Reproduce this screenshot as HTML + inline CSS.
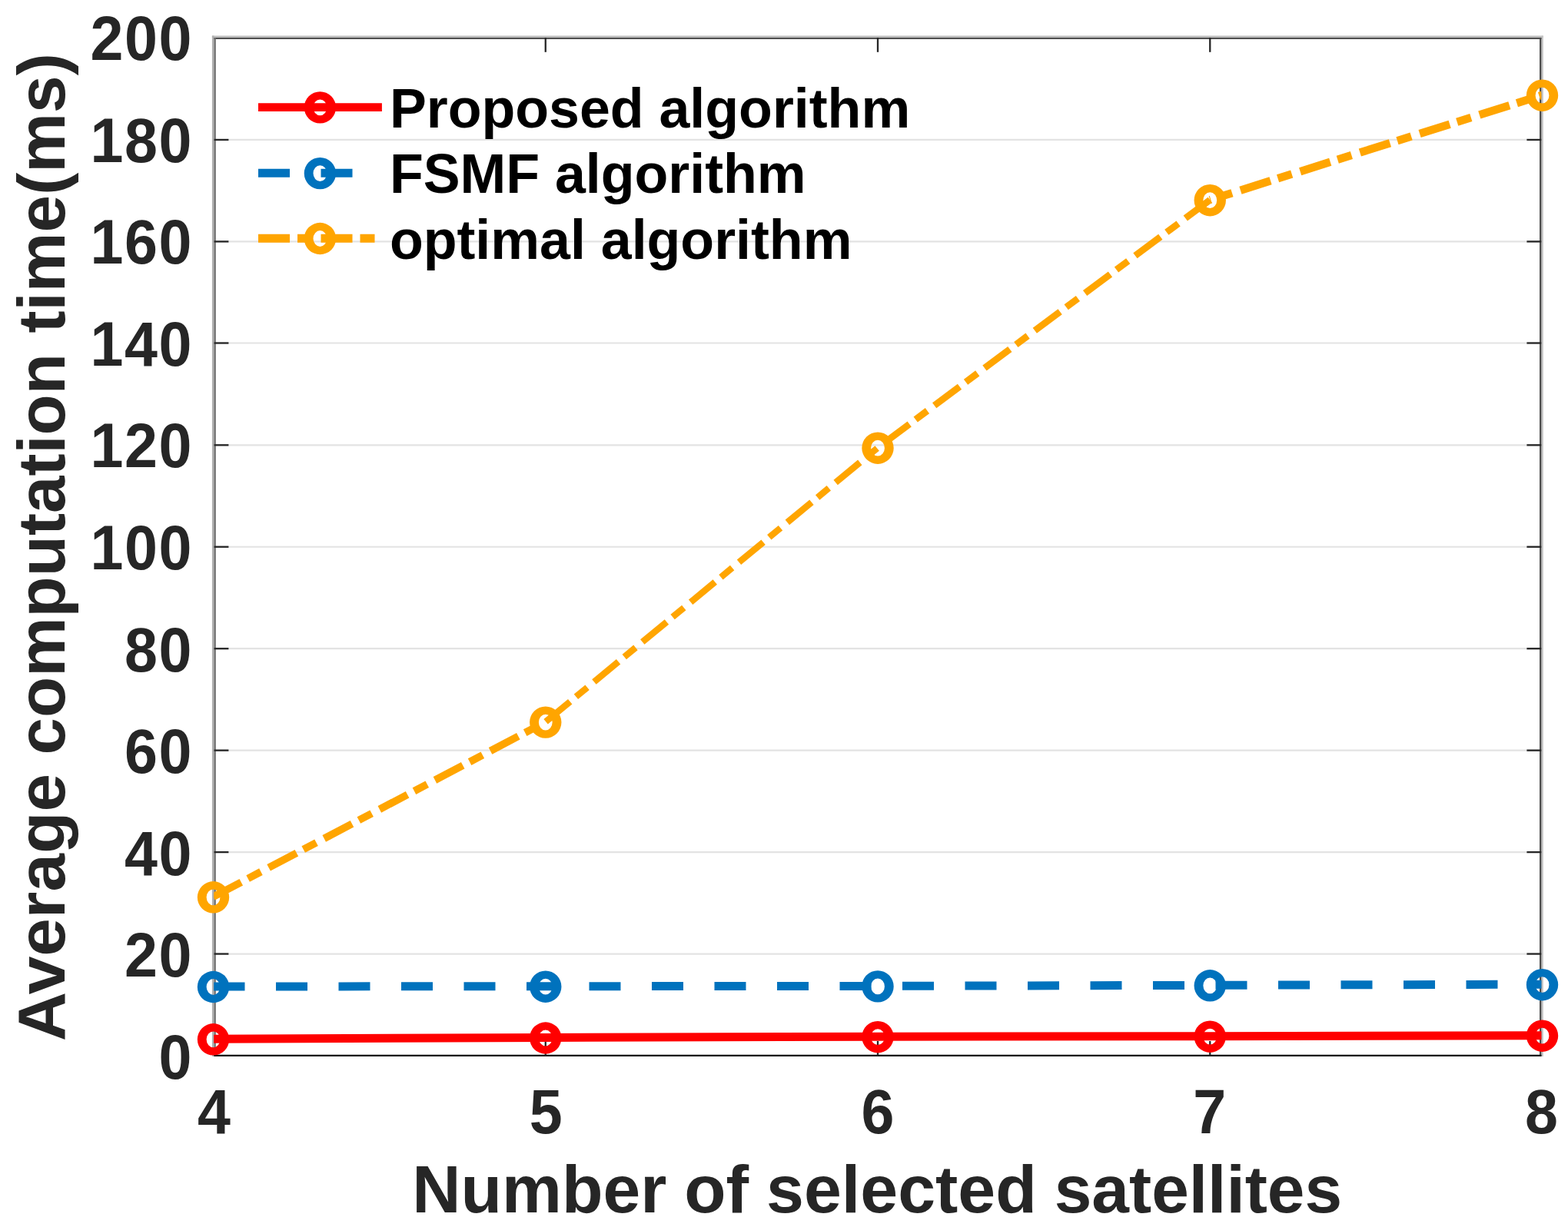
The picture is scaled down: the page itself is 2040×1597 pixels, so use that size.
<!DOCTYPE html>
<html lang="en"><head><meta charset="utf-8"><title>Average computation time</title>
<style>html,body{margin:0;padding:0;background:#fff;width:2040px;height:1597px;overflow:hidden}svg{display:block}text{font-family:"Liberation Sans",sans-serif;font-weight:bold}</style></head><body>
<svg width="2040" height="1597" viewBox="0 0 2040 1597" role="img" aria-label="Average computation time versus number of selected satellites">
<defs><clipPath id="ax"><rect x="278.2" y="49.0" width="1727.2" height="1324.8"/></clipPath></defs>
<rect width="2040" height="1597" fill="#fff"/>
<g stroke="#e3e3e3" stroke-width="2.2">
<line x1="278.4" y1="1241.55" x2="2005.4" y2="1241.55"/>
<line x1="278.4" y1="1109.10" x2="2005.4" y2="1109.10"/>
<line x1="278.4" y1="976.65" x2="2005.4" y2="976.65"/>
<line x1="278.4" y1="844.20" x2="2005.4" y2="844.20"/>
<line x1="278.4" y1="711.75" x2="2005.4" y2="711.75"/>
<line x1="278.4" y1="579.30" x2="2005.4" y2="579.30"/>
<line x1="278.4" y1="446.50" x2="2005.4" y2="446.50"/>
<line x1="278.4" y1="314.40" x2="2005.4" y2="314.40"/>
<line x1="278.4" y1="181.95" x2="2005.4" y2="181.95"/>
</g>
<g fill="none">
<line x1="275.9" y1="47.75" x2="2007.8" y2="47.75" stroke="#bdbdbd" stroke-width="2.5"/>
<line x1="277.15" y1="46.5" x2="277.15" y2="1375" stroke="#b0b0b0" stroke-width="2.5"/>
<line x1="2006.6" y1="46.5" x2="2006.6" y2="1375" stroke="#c4c4c4" stroke-width="2.4"/>
<line x1="278.4" y1="50" x2="2005.4" y2="50" stroke="#505050" stroke-width="2"/>
<line x1="279.6" y1="49" x2="279.6" y2="1375" stroke="#6e6e6e" stroke-width="2.4"/>
<line x1="2004.2" y1="49" x2="2004.2" y2="1375" stroke="#4d4d4d" stroke-width="2.4"/>
<line x1="278.4" y1="1373.8" x2="2005.4" y2="1373.8" stroke="#0d0d0d" stroke-width="2.3"/>
</g>
<g stroke="#262626" stroke-width="2.3">
<line x1="278.6" y1="1241.55" x2="297.4" y2="1241.55"/>
<line x1="1986.4" y1="1241.55" x2="2005.2" y2="1241.55"/>
<line x1="278.6" y1="1109.10" x2="297.4" y2="1109.10"/>
<line x1="1986.4" y1="1109.10" x2="2005.2" y2="1109.10"/>
<line x1="278.6" y1="976.65" x2="297.4" y2="976.65"/>
<line x1="1986.4" y1="976.65" x2="2005.2" y2="976.65"/>
<line x1="278.6" y1="844.20" x2="297.4" y2="844.20"/>
<line x1="1986.4" y1="844.20" x2="2005.2" y2="844.20"/>
<line x1="278.6" y1="711.75" x2="297.4" y2="711.75"/>
<line x1="1986.4" y1="711.75" x2="2005.2" y2="711.75"/>
<line x1="278.6" y1="579.30" x2="297.4" y2="579.30"/>
<line x1="1986.4" y1="579.30" x2="2005.2" y2="579.30"/>
<line x1="278.6" y1="446.50" x2="297.4" y2="446.50"/>
<line x1="1986.4" y1="446.50" x2="2005.2" y2="446.50"/>
<line x1="278.6" y1="314.40" x2="297.4" y2="314.40"/>
<line x1="1986.4" y1="314.40" x2="2005.2" y2="314.40"/>
<line x1="278.6" y1="181.95" x2="297.4" y2="181.95"/>
<line x1="1986.4" y1="181.95" x2="2005.2" y2="181.95"/>
<line x1="709.75" y1="1374.5" x2="709.75" y2="1355.0"/>
<line x1="709.75" y1="49.0" x2="709.75" y2="67.8"/>
<line x1="1142.00" y1="1374.5" x2="1142.00" y2="1355.0"/>
<line x1="1142.00" y1="49.0" x2="1142.00" y2="67.8"/>
<line x1="1574.25" y1="1374.5" x2="1574.25" y2="1355.0"/>
<line x1="1574.25" y1="49.0" x2="1574.25" y2="67.8"/>
</g>
<g fill="none" stroke-width="11.0" clip-path="url(#ax)">
<polyline points="277.50,1352.30 709.75,1350.50 1142.00,1349.20 1574.25,1348.70 2006.50,1347.70" stroke="#ff0000"/>
<polyline points="277.50,1284.00 709.75,1283.70 1142.00,1283.40 1574.25,1282.30 2006.50,1281.20" stroke="#0072bd" stroke-dasharray="41 40.5"/>
<line x1="277.50" y1="1167.30" x2="709.75" y2="939.60" stroke="#ffa500" stroke-width="9.73" stroke-dasharray="41 10 19 11.5" stroke-dashoffset="0.00"/>
<line x1="709.75" y1="939.60" x2="1142.00" y2="582.70" stroke="#ffa500" stroke-width="8.48" stroke-dasharray="41 10 19 11.5" stroke-dashoffset="81.06"/>
<line x1="1142.00" y1="582.70" x2="1574.25" y2="260.20" stroke="#ffa500" stroke-width="8.82" stroke-dasharray="41 10 19 11.5" stroke-dashoffset="71.11"/>
<line x1="1574.25" y1="260.20" x2="2006.50" y2="123.70" stroke="#ffa500" stroke-width="10.49" stroke-dasharray="41 10 19 11.5" stroke-dashoffset="39.91"/>
</g>
<g><path fill="#ff0000" fill-rule="evenodd" d="M256.80 1352.80a20.7 20.7 0 1 0 41.4 0a20.7 20.7 0 1 0 -41.4 0zM268.60 1352.80a8.9 10.4 0 1 0 17.8 0a8.9 10.4 0 1 0 -17.8 0z"/><path fill="#ff0000" fill-rule="evenodd" d="M689.05 1351.00a20.7 20.7 0 1 0 41.4 0a20.7 20.7 0 1 0 -41.4 0zM700.85 1351.00a8.9 10.4 0 1 0 17.8 0a8.9 10.4 0 1 0 -17.8 0z"/><path fill="#ff0000" fill-rule="evenodd" d="M1121.30 1349.70a20.7 20.7 0 1 0 41.4 0a20.7 20.7 0 1 0 -41.4 0zM1133.10 1349.70a8.9 10.4 0 1 0 17.8 0a8.9 10.4 0 1 0 -17.8 0z"/><path fill="#ff0000" fill-rule="evenodd" d="M1553.55 1349.20a20.7 20.7 0 1 0 41.4 0a20.7 20.7 0 1 0 -41.4 0zM1565.35 1349.20a8.9 10.4 0 1 0 17.8 0a8.9 10.4 0 1 0 -17.8 0z"/><path fill="#ff0000" fill-rule="evenodd" d="M1985.80 1348.20a20.7 20.7 0 1 0 41.4 0a20.7 20.7 0 1 0 -41.4 0zM1997.60 1348.20a8.9 10.4 0 1 0 17.8 0a8.9 10.4 0 1 0 -17.8 0z"/><path fill="#0072bd" fill-rule="evenodd" d="M256.80 1284.50a20.7 20.7 0 1 0 41.4 0a20.7 20.7 0 1 0 -41.4 0zM268.60 1284.50a8.9 10.4 0 1 0 17.8 0a8.9 10.4 0 1 0 -17.8 0z"/><path fill="#0072bd" fill-rule="evenodd" d="M689.05 1284.20a20.7 20.7 0 1 0 41.4 0a20.7 20.7 0 1 0 -41.4 0zM700.85 1284.20a8.9 10.4 0 1 0 17.8 0a8.9 10.4 0 1 0 -17.8 0z"/><path fill="#0072bd" fill-rule="evenodd" d="M1121.30 1283.90a20.7 20.7 0 1 0 41.4 0a20.7 20.7 0 1 0 -41.4 0zM1133.10 1283.90a8.9 10.4 0 1 0 17.8 0a8.9 10.4 0 1 0 -17.8 0z"/><path fill="#0072bd" fill-rule="evenodd" d="M1553.55 1282.80a20.7 20.7 0 1 0 41.4 0a20.7 20.7 0 1 0 -41.4 0zM1565.35 1282.80a8.9 10.4 0 1 0 17.8 0a8.9 10.4 0 1 0 -17.8 0z"/><path fill="#0072bd" fill-rule="evenodd" d="M1985.80 1281.70a20.7 20.7 0 1 0 41.4 0a20.7 20.7 0 1 0 -41.4 0zM1997.60 1281.70a8.9 10.4 0 1 0 17.8 0a8.9 10.4 0 1 0 -17.8 0z"/><path fill="#ffa500" fill-rule="evenodd" d="M256.80 1167.80a20.7 20.7 0 1 0 41.4 0a20.7 20.7 0 1 0 -41.4 0zM268.60 1167.80a8.9 10.4 0 1 0 17.8 0a8.9 10.4 0 1 0 -17.8 0z"/><path fill="#ffa500" fill-rule="evenodd" d="M689.05 940.10a20.7 20.7 0 1 0 41.4 0a20.7 20.7 0 1 0 -41.4 0zM700.85 940.10a8.9 10.4 0 1 0 17.8 0a8.9 10.4 0 1 0 -17.8 0z"/><path fill="#ffa500" fill-rule="evenodd" d="M1121.30 583.20a20.7 20.7 0 1 0 41.4 0a20.7 20.7 0 1 0 -41.4 0zM1133.10 583.20a8.9 10.4 0 1 0 17.8 0a8.9 10.4 0 1 0 -17.8 0z"/><path fill="#ffa500" fill-rule="evenodd" d="M1553.55 260.70a20.7 20.7 0 1 0 41.4 0a20.7 20.7 0 1 0 -41.4 0zM1565.35 260.70a8.9 10.4 0 1 0 17.8 0a8.9 10.4 0 1 0 -17.8 0z"/><path fill="#ffa500" fill-rule="evenodd" d="M1985.80 124.20a20.7 20.7 0 1 0 41.4 0a20.7 20.7 0 1 0 -41.4 0zM1997.60 124.20a8.9 10.4 0 1 0 17.8 0a8.9 10.4 0 1 0 -17.8 0z"/></g>
<g>
<line x1="336.0" y1="139.6" x2="496.9" y2="139.6" stroke="#ff0000" stroke-width="10.9"/>
<path fill="#ff0000" fill-rule="evenodd" d="M395.70 139.90a20.7 20.7 0 1 0 41.4 0a20.7 20.7 0 1 0 -41.4 0zM407.50 139.90a8.9 10.4 0 1 0 17.8 0a8.9 10.4 0 1 0 -17.8 0z"/>
<text transform="translate(506.9 165.6) scale(1.003 1.0)" font-size="71.5" fill="#000">Proposed algorithm</text>
<line x1="336.0" y1="225.3" x2="496.9" y2="225.3" stroke="#0072bd" stroke-width="10.9" stroke-dasharray="41 40.5"/>
<path fill="#0072bd" fill-rule="evenodd" d="M395.70 225.60a20.7 20.7 0 1 0 41.4 0a20.7 20.7 0 1 0 -41.4 0zM407.50 225.60a8.9 10.4 0 1 0 17.8 0a8.9 10.4 0 1 0 -17.8 0z"/>
<text transform="translate(506.9 250.6) scale(1.003 1.0)" font-size="71.5" fill="#000">FSMF algorithm</text>
<line x1="336.0" y1="310.2" x2="496.9" y2="310.2" stroke="#ffa500" stroke-width="10.9" stroke-dasharray="41 10 19 11.5"/>
<path fill="#ffa500" fill-rule="evenodd" d="M395.70 310.50a20.7 20.7 0 1 0 41.4 0a20.7 20.7 0 1 0 -41.4 0zM407.50 310.50a8.9 10.4 0 1 0 17.8 0a8.9 10.4 0 1 0 -17.8 0z"/>
<text transform="translate(506.9 337.3) scale(1.003 1.0)" font-size="71.5" fill="#000">optimal algorithm</text>
</g>
<g font-size="80" fill="#262626">
<text transform="translate(250.9 78.0) scale(0.965 1.025)" text-anchor="end" letter-spacing="1.6">200</text>
<text transform="translate(250.9 210.6) scale(0.965 1.025)" text-anchor="end" letter-spacing="1.6">180</text>
<text transform="translate(250.9 343.2) scale(0.965 1.025)" text-anchor="end" letter-spacing="1.6">160</text>
<text transform="translate(250.9 475.8) scale(0.965 1.025)" text-anchor="end" letter-spacing="1.6">140</text>
<text transform="translate(250.9 608.4) scale(0.965 1.025)" text-anchor="end" letter-spacing="1.6">120</text>
<text transform="translate(250.9 741.0) scale(0.965 1.025)" text-anchor="end" letter-spacing="1.6">100</text>
<text transform="translate(250.9 873.6) scale(0.965 1.025)" text-anchor="end" letter-spacing="1.6">80</text>
<text transform="translate(250.9 1006.2) scale(0.965 1.025)" text-anchor="end" letter-spacing="1.6">60</text>
<text transform="translate(250.9 1138.8) scale(0.965 1.025)" text-anchor="end" letter-spacing="1.6">40</text>
<text transform="translate(250.9 1271.4) scale(0.965 1.025)" text-anchor="end" letter-spacing="1.6">20</text>
<text transform="translate(250.9 1404.0) scale(0.965 1.025)" text-anchor="end" letter-spacing="1.6">0</text>
<text transform="translate(278.5 1474.8) scale(0.965 1.02)" text-anchor="middle">4</text>
<text transform="translate(710.2 1474.8) scale(0.965 1.02)" text-anchor="middle">5</text>
<text transform="translate(1142.0 1474.8) scale(0.965 1.02)" text-anchor="middle">6</text>
<text transform="translate(1573.8 1474.8) scale(0.965 1.02)" text-anchor="middle">7</text>
<text transform="translate(2005.5 1474.8) scale(0.965 1.02)" text-anchor="middle">8</text>
</g>
<text y="1577.9" font-size="88" fill="#262626"><tspan x="536.3" textLength="331.0" lengthAdjust="spacingAndGlyphs">Number</tspan> <tspan x="890.3" textLength="83.9" lengthAdjust="spacingAndGlyphs">of</tspan> <tspan x="997.0" textLength="352.0" lengthAdjust="spacingAndGlyphs">selected</tspan> <tspan x="1371.7" textLength="374.5" lengthAdjust="spacingAndGlyphs">satellites</tspan></text>
<text transform="translate(84.2 0) rotate(-90)" y="0" font-size="88" fill="#262626"><tspan x="-1355.2" textLength="348.1" lengthAdjust="spacingAndGlyphs">Average</tspan> <tspan x="-982.5" textLength="522.5" lengthAdjust="spacingAndGlyphs">computation</tspan> <tspan x="-433.6" textLength="364.4" lengthAdjust="spacingAndGlyphs">time(ms)</tspan></text>
</svg></body></html>
